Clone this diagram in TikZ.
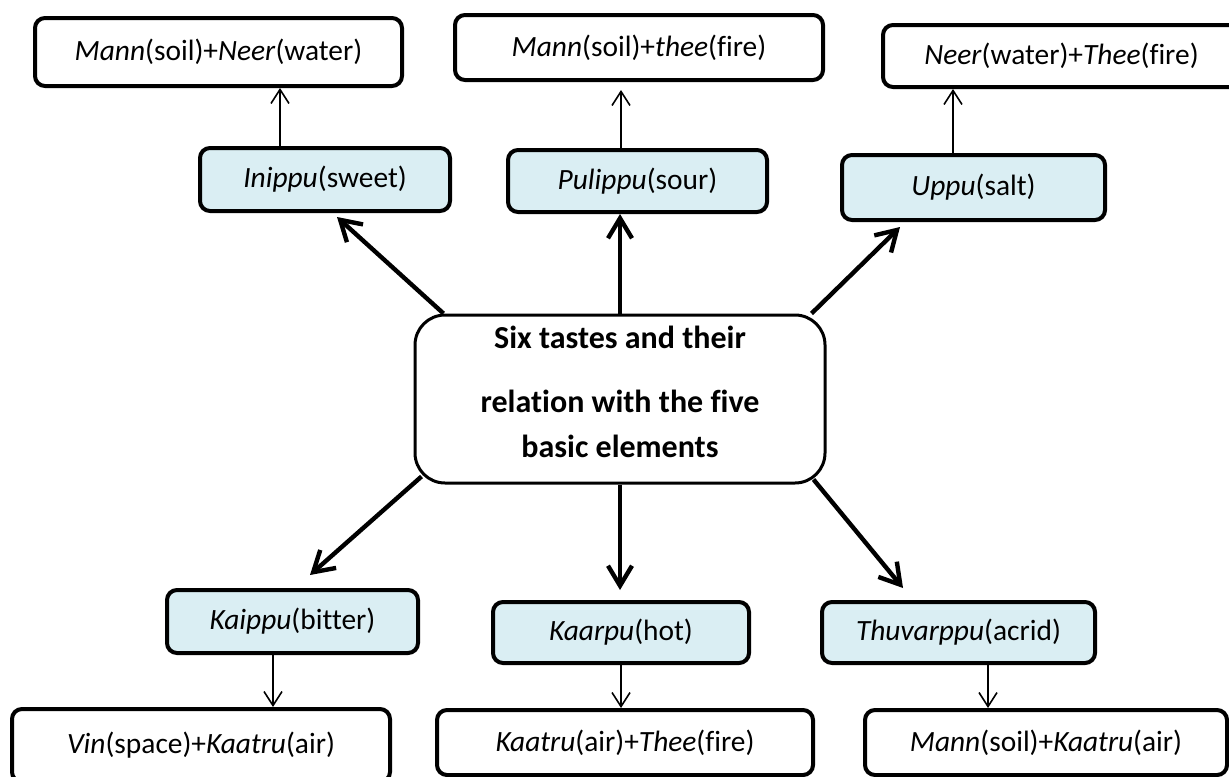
\documentclass[tikz,border=0pt]{standalone}
\usepackage{fontspec}
\setmainfont{Carlito}[Ligatures = NoCommon]
\usetikzlibrary{arrows.meta}
\definecolor{tastebg}{HTML}{DAEEF3}

\begin{document}
\begin{tikzpicture}[x = .5pt, y = -.5pt,
    taste/.style = {draw, line width = 2pt, rounded corners = 5pt, fill = tastebg, inner sep = 0pt},
    elem/.style = {draw, line width = 2pt, rounded corners = 5pt, fill = white, inner sep = 0pt},
    big/.style = {-{Straight Barb[length = 10pt, width = 12pt]}, line width = 2.2pt},
    small/.style = {-{Straight Barb[length = 7pt, width = 9pt]}, line width = .8pt}]
\tikzstyle{every node} = [font = \fontsize{14.7}{17}\selectfont]
\useasboundingbox (0,0) rectangle (1229,776);

% centre box
\node [draw, line width = 1.5pt, rounded corners = 15pt, minimum width = 205pt, minimum height = 84pt]
      (centre) at (620,399) {};
\node [align = center, font = \fontsize{16}{22.5}\selectfont\bfseries]
      (centre-text) at ([yshift = 3.5pt]centre.center) {Six tastes and their\\[9.5pt]relation with the five\\basic elements};

% six tastes
\node [taste, minimum width = 125pt, minimum height = 31.5pt] (inippu) at (325,179.5) {\textit{Inippu}(sweet)};
\node [taste, minimum width = 129.5pt, minimum height = 31pt] (pulippu) at (637.5,181) {\textit{Pulippu}(sour)};
\node [taste, minimum width = 131.5pt, minimum height = 32.5pt] (uppu) at (973.5,187.5) {\textit{Uppu}(salt)};
\node [taste, minimum width = 125.5pt, minimum height = 31.5pt] (kaippu) at (292.5,621.5) {\textit{Kaippu}(bitter)};
\node [taste, minimum width = 128pt, minimum height = 30.5pt] (kaarpu) at (621,632.5) {\textit{Kaarpu}(hot)};
\node [taste, minimum width = 136.5pt, minimum height = 30.5pt] (thuvarppu) at (958.5,632.5) {\textit{Thuvarppu}(acrid)};

% elements
\node [elem, minimum width = 183.5pt, minimum height = 34pt] (mann-neer) at (218.5,52) {\textit{Mann}(soil)+\textit{Neer}(water)};
\node [elem, minimum width = 184pt, minimum height = 32.5pt] (mann-thee) at (639,47.5) {\textit{Mann}(soil)+\textit{thee}(fire)};
\node [elem, minimum width = 178.5pt, minimum height = 31pt] (neer-thee) at (1061.5,56) {\textit{Neer}(water)+\textit{Thee}(fire)};
\node [elem, minimum width = 189pt, minimum height = 36.5pt] (vin-kaatru) at (201,745.5) {\textit{Vin}(space)+\textit{Kaatru}(air)};
\node [elem, minimum width = 188pt, minimum height = 32.5pt] (kaatru-thee) at (625,742.5) {\textit{Kaatru}(air)+\textit{Thee}(fire)};
\node [elem, minimum width = 181pt, minimum height = 32.5pt] (mann-kaatru) at (1046,742.5) {\textit{Mann}(soil)+\textit{Kaatru}(air)};

% centre to tastes
\draw [big] ([xshift = 15pt]centre.north west) -- ([xshift = 6pt, yshift = -2pt]inippu.south); %sweet
\draw [big] (centre.north) -- (centre.north |- pulippu.south); %sour
\draw [big] ([xshift = -7.5pt]centre.north east) -- ([xshift = 30pt, yshift = -2.5pt]uppu.south west); %salt
\draw [big] ([xshift = 4pt, yshift = 4pt]centre.south west) -- ([xshift = 8.75pt, yshift = 6.5pt]kaippu.north); %bitter
\draw [big, shorten > = 5pt] (centre.south) -- (centre.south |- kaarpu.north); %hot
\draw [big] ([xshift = -6.5pt, yshift = 2.5pt]centre.south east) -- ([xshift = 41.5pt, yshift = 6pt]thuvarppu.north west); %acrid

% tastes to elements
\coordinate (up1) at ([xshift = -22.5pt]inippu.north);
\coordinate (up2) at ([xshift = -8.25pt]pulippu.north);
\coordinate (up3) at ([xshift = -10.25pt]uppu.north);
\coordinate (down1) at ([xshift = -9.75pt]kaippu.south);
\coordinate (down2) at (kaarpu.south);
\coordinate (down3) at ([xshift = 14.75pt]thuvarppu.south);
\draw [small] (up1) -- (up1 |- mann-neer.south);
\draw [small, shorten > = 4pt] (up2) -- (up2 |- mann-thee.south);
\draw [small] (up3) -- (up3 |- neer-thee.south);
\draw [small] (down1) -- (down1 |- vin-kaatru.north);
\draw [small] (down2) -- (down2 |- kaatru-thee.north);
\draw [small] (down3) -- (down3 |- mann-kaatru.north);
\end{tikzpicture}
\end{document}
